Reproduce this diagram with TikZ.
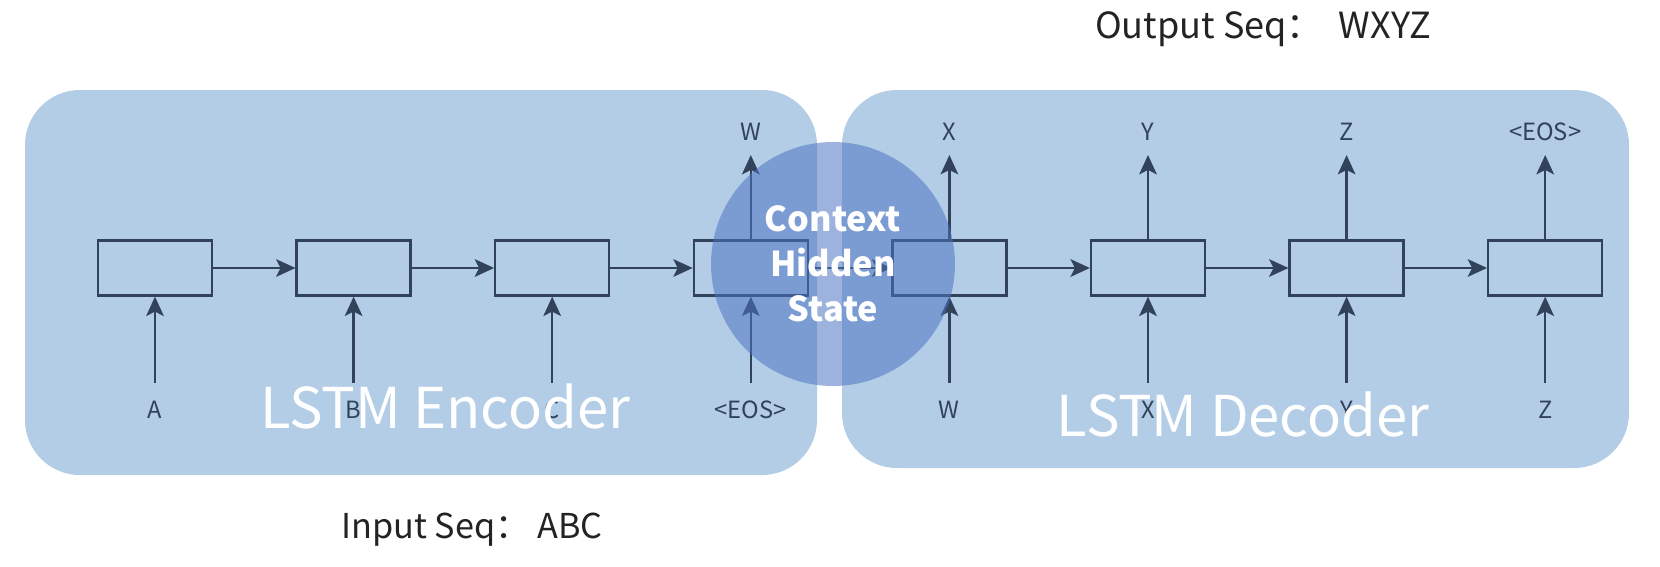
\documentclass[tikz,border=0pt]{standalone}
\usepackage{fontspec}
\setmainfont{Noto Sans CJK SC}
\usetikzlibrary{arrows.meta}
\definecolor{boxblue}{RGB}{179,205,231}
\definecolor{ctxblue}{RGB}{77,116,195}
\definecolor{lineblue}{RGB}{50,66,90}
\definecolor{seqgray}{RGB}{35,35,35}
\begin{document}
\begin{tikzpicture}[x=0.02cm, y=-0.02cm,
		cell/.style={draw=lineblue, line width=1.3pt, minimum width=2.28cm, minimum height=1.1cm, inner sep=0pt},
		flow/.style={draw=lineblue, line width=1.3pt, -{Stealth[length=11pt, width=10pt, inset=2.5pt]}},
		lbl/.style={text=lineblue, font=\fontsize{13.5}{16}\selectfont, inner sep=0pt},
		big/.style={text=white, font=\fontsize{32}{38}\selectfont, inner sep=0pt},
		seq/.style={text=seqgray, font=\fontsize{19.5}{24}\selectfont, inner sep=0pt},
		ctx/.style={circle, minimum size=4.88cm, fill=ctxblue, fill opacity=.55, text opacity=1, text=white, align=center, font=\bfseries\fontsize{19.5}{25.5}\selectfont}]
		\useasboundingbox (0,0) rectangle (1660,566);
		\fill [boxblue, rounded corners=1.1cm] (25,90) rectangle (817,475);
		\fill [boxblue, rounded corners=1.1cm] (842,90) rectangle (1629,468);
		\foreach \i/\inp in {0/A, 1/B, 2/C, 3/<EOS>, 4/W, 5/X, 6/Y, 7/Z} {
			\node [cell] (c\i) at (155+198.6*\i, 268) {};
			\node [lbl] (in\i) at (155+198.6*\i, 410) {\inp};
			\coordinate (s\i) at (155+198.6*\i, 383);
			\draw [flow] (s\i) -- (c\i);
		};
		\foreach \i/\outp in {3/W, 4/X, 5/Y, 6/Z, 7/<EOS>} {
			\node [lbl] (out\i) at (155+198.6*\i, 132) {\outp};
			\coordinate (t\i) at (155+198.6*\i, 155);
			\draw [flow] (c\i) -- (t\i);
		};
		\foreach \i/\j in {0/1, 1/2, 2/3, 3/4, 4/5, 5/6, 6/7}
			\draw [flow] (c\i) -- (c\j);
		\node [ctx] (ctx) at (833,264) {Context\\Hidden\\State};
		\node [big] (enc) at (445,406) {LSTM Encoder};
		\node [big] (dec) at (1243,414) {LSTM Decoder};
		\node [seq] (inseq) at (472,530) {Input Seq：\ ABC};
		\node [seq, font=\fontsize{20.5}{24}\selectfont] (outseq) at (1263,29) {Output Seq：\ \ WXYZ};
	\end{tikzpicture}
\end{document}
